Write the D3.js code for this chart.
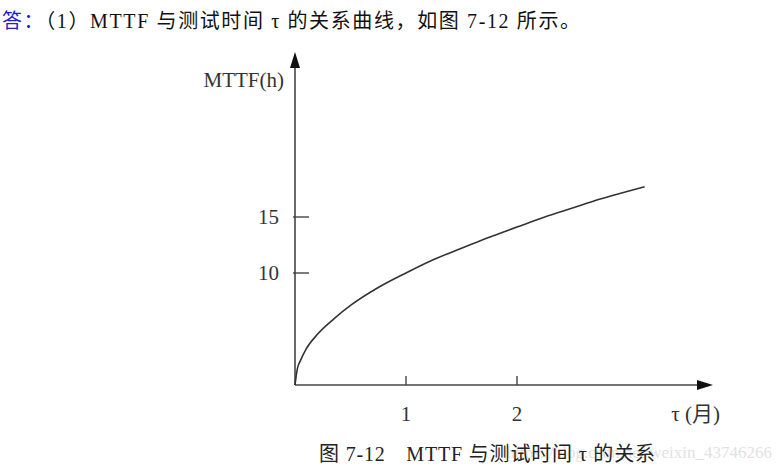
<!DOCTYPE html>
<html><head><meta charset="utf-8">
<script src="https://cdn.jsdelivr.net/npm/d3@7"></script>
<style>body{margin:0;background:#fff}text{font-family:"Liberation Serif","Noto Sans CJK SC",serif}</style>
</head><body><svg id="c" width="782" height="469"></svg>
<script>
const tau = [0, 0.02, 0.05, 0.1, 0.2, 0.35, 0.5, 0.75, 1.0, 1.25, 1.5, 1.75, 2.0, 2.25, 2.5, 2.75, 3.0, 3.15];
const mttf = [0, 1.4, 2.2, 3.2, 4.5, 5.9, 7.1, 8.7, 10.0, 11.2, 12.2, 13.2, 14.1, 15.0, 15.8, 16.6, 17.3, 17.7];
const xTicks = [1, 2];
const yTicks = [10, 15];
const svg = d3.select("#c");
const x = d3.scaleLinear().domain([0, 1]).range([295, 406]);
const y = d3.scaleLinear().domain([0, 10]).range([385, 273]);
const g = svg.append("g");
g.append("line").attr("x1", x(0)).attr("y1", y(0)).attr("x2", 700).attr("y2", y(0)).attr("stroke", "#444").attr("stroke-width", 1.6);
g.append("path").attr("d", `M713,${y(0)} L697,${y(0)-5} L697,${y(0)+5}Z`).attr("fill", "#111");
g.append("line").attr("x1", x(0)).attr("y1", y(0)).attr("x2", x(0)).attr("y2", 66).attr("stroke", "#444").attr("stroke-width", 1.6);
g.append("path").attr("d", `M${x(0)},52 L${x(0)-5},68 L${x(0)+5},68Z`).attr("fill", "#111");
xTicks.forEach(t => {
  g.append("line").attr("x1", x(t)).attr("x2", x(t)).attr("y1", y(0)).attr("y2", y(0) - 9).attr("stroke", "#444").attr("stroke-width", 1.4);
  g.append("text").attr("x", x(t)).attr("y", y(0) + 36).attr("text-anchor", "middle").attr("font-size", 21).attr("fill", "#333").text(t);
});
yTicks.forEach(t => {
  g.append("line").attr("x1", x(0) - 2).attr("x2", x(0) + 14).attr("y1", y(t)).attr("y2", y(t)).attr("stroke", "#444").attr("stroke-width", 1.4);
  g.append("text").attr("x", 279).attr("y", y(t) + 7).attr("text-anchor", "end").attr("font-size", 21).attr("fill", "#333").text(t);
});
g.append("text").attr("x", 284).attr("y", 87).attr("text-anchor", "end").attr("font-size", 21).attr("fill", "#333").text("MTTF(h)");
g.append("text").attr("x", 720).attr("y", 421).attr("text-anchor", "end").attr("font-size", 21).attr("fill", "#333").text("τ (月)");
const line = d3.line().x((d, i) => x(tau[i])).y(d => y(d)).curve(d3.curveMonotoneX);
g.append("path").datum(mttf).attr("d", line).attr("fill", "none").attr("stroke", "#333").attr("stroke-width", 1.6);
svg.append("text").attr("x", 772).attr("y", 458).attr("text-anchor", "end").attr("font-size", 17).attr("fill", "#e2e2e2").attr("font-family", "Liberation Sans").text("https://blog.csdn.net/weixin_43746266");
svg.append("text").attr("x", 319).attr("y", 461).attr("font-size", 20).attr("fill", "#222").attr("textLength", 336).text("图 7-12　MTTF 与测试时间 τ 的关系");
const header = svg.append("text").attr("x", 2).attr("y", 28).attr("font-size", 20).attr("textLength", 578);
header.append("tspan").attr("fill", "#2020d0").text("答：");
header.append("tspan").attr("fill", "#111").text("（1）MTTF 与测试时间 τ 的关系曲线，如图 7-12 所示。");
</script></body></html>
